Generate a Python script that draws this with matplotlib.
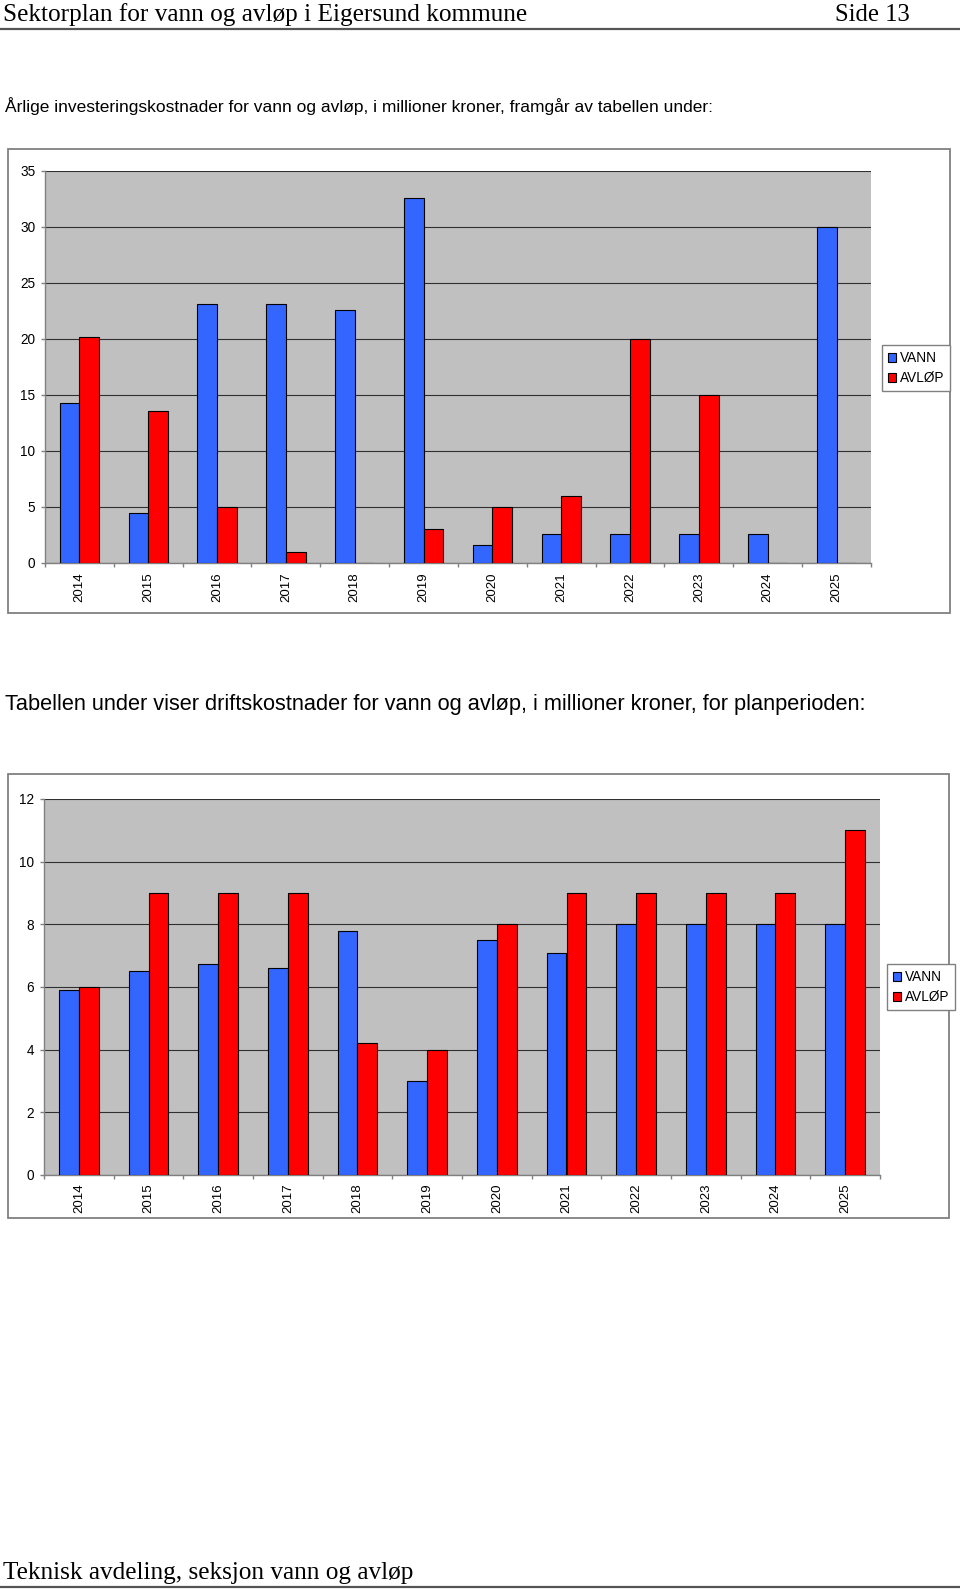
import matplotlib
matplotlib.use('Agg')
import matplotlib.pyplot as plt
import numpy as np
from matplotlib.patches import Rectangle, Patch
from matplotlib.lines import Line2D

# ---------------- data ----------------
years = ['2014', '2015', '2016', '2017', '2018', '2019',
         '2020', '2021', '2022', '2023', '2024', '2025']
invest_vann = [14.3, 4.5, 23.1, 23.1, 22.6, 32.6, 1.6, 2.6, 2.6, 2.6, 2.6, 30.0]
invest_avlop = [20.2, 13.6, 5.0, 1.0, 0.0, 3.0, 5.0, 6.0, 20.0, 15.0, 0.0, 0.0]
drift_vann = [5.9, 6.5, 6.75, 6.6, 7.8, 3.0, 7.5, 7.1, 8.0, 8.0, 8.0, 8.0]
drift_avlop = [6.0, 9.0, 9.0, 9.0, 4.2, 4.0, 8.0, 9.0, 9.0, 9.0, 9.0, 11.0]
series_names = ['VANN', 'AVLØP']

header_left = 'Sektorplan for vann og avløp i Eigersund kommune'
header_right = 'Side 13'
text1 = 'Årlige investeringskostnader for vann og avløp, i millioner kroner, framgår av tabellen under:'
text2 = 'Tabellen under viser driftskostnader for vann og avløp, i millioner kroner, for planperioden:'
footer = 'Teknisk avdeling, seksjon vann og avløp'

# ---------------- style ----------------
W, H = 960, 1589
BLUE = '#3366FF'
RED = '#FF0000'
PLOT_BG = '#C0C0C0'
SANS = ['Liberation Sans', 'DejaVu Sans']
SERIF = ['Liberation Serif', 'DejaVu Serif']

fig = plt.figure(figsize=(W / 100, H / 100), dpi=100)
fig.patch.set_facecolor('white')
renderer = fig.canvas.get_renderer()


def fx(x):
    return x / W


def fy(y):
    return 1 - y / H


def fit_text(x, y, s, target_w, family, ha='left'):
    t = fig.text(fx(x), fy(y), s, family=family, fontsize=12, ha=ha, va='baseline', color='black')
    bb = t.get_window_extent(renderer)
    t.set_fontsize(12 * target_w / bb.width)
    return t


def hline(y, lw, color):
    fig.add_artist(Line2D([0, 1], [fy(y), fy(y)], transform=fig.transFigure, lw=lw, color=color))


def chart(outer, plot, vann, avlop, ymax, ystep, xpad, legend_xy):
    x0, y0, x1, y1 = outer
    fig.add_artist(Rectangle((fx(x0), fy(y1)), (x1 - x0) / W, (y1 - y0) / H,
                             transform=fig.transFigure, fill=False,
                             edgecolor='#808080', lw=1.3))
    px0, py0, px1, py1 = plot
    ax = fig.add_axes([fx(px0), fy(py1), (px1 - px0) / W, (py1 - py0) / H])
    ax.set_facecolor(PLOT_BG)
    x = np.arange(len(years))
    w = 1 / 3.5
    ax.bar(x - w / 2, vann, w, color=BLUE, edgecolor='black', lw=0.8, zorder=3)
    ax.bar(x + w / 2, avlop, w, color=RED, edgecolor='black', lw=0.8, zorder=3)
    ax.set_xlim(-0.5, len(years) - 0.5)
    ax.set_ylim(0, ymax)
    ax.set_yticks(np.arange(0, ymax + 0.01, ystep))
    ax.yaxis.grid(True, color='#303030', lw=0.8)
    ax.set_axisbelow(True)
    for s in ['top', 'right']:
        ax.spines[s].set_visible(False)
    for s in ['left', 'bottom']:
        ax.spines[s].set_color('#808080')
        ax.spines[s].set_linewidth(1.0)
    ax.set_xticks(x)
    ax.set_xticklabels(years, rotation=90, fontsize=9.5, family=SANS)
    ax.set_xticks(np.arange(-0.5, len(years), 1), minor=True)
    ax.tick_params(axis='x', which='major', length=0, pad=xpad)
    ax.tick_params(axis='x', which='minor', length=3, color='#808080', width=1)
    ax.tick_params(axis='y', length=3, pad=4, color='#808080', width=1)
    for lab in ax.get_yticklabels():
        lab.set_fontsize(9.8)
        lab.set_family(SANS)
    handles = [Patch(facecolor=BLUE, edgecolor='black', lw=0.8),
               Patch(facecolor=RED, edgecolor='black', lw=0.8)]
    fig.legend(handles, series_names, loc='upper left',
               bbox_to_anchor=(fx(legend_xy[0]), fy(legend_xy[1])),
               bbox_transform=fig.transFigure, prop={'family': SANS, 'size': 9.8},
               handlelength=0.6, handleheight=0.6, handletextpad=0.25,
               borderpad=0.45, labelspacing=0.45, frameon=True, fancybox=False,
               edgecolor='#808080', framealpha=1, borderaxespad=0)
    return ax


# header
fit_text(3, 21, header_left, 523, SERIF)
fit_text(910, 21, header_right, 75, SERIF, ha='right')
hline(28.5, 1.6, '#555555')

fit_text(5, 112, text1, 707, SANS)
chart((8, 149, 950, 613), (45, 171, 871, 563), invest_vann, invest_avlop, 35, 5, 7, (882, 345))

fit_text(5, 710, text2, 865, SANS)
chart((8, 774, 949, 1218), (44, 799, 880, 1175), drift_vann, drift_avlop, 12, 2, 5.8, (887, 964))

fit_text(3, 1579, footer, 411, SERIF)
hline(1587, 1.6, '#555555')

fig.savefig('out.png', dpi=100, facecolor='white')
